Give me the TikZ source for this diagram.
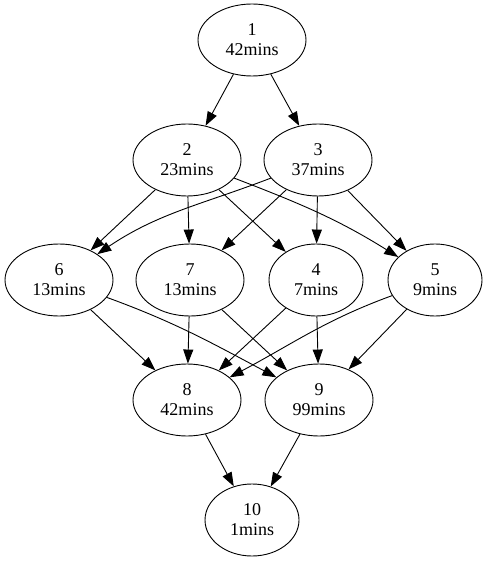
\documentclass[tikz,border=0pt]{standalone}
\usepackage{fontspec}
\setmainfont{Liberation Serif}
\usetikzlibrary{arrows.meta,shapes.geometric}
\begin{document}
\begin{tikzpicture}[x=1pt,y=-1pt,
  task/.style={draw,ellipse,line width=0.9pt,inner sep=0pt,minimum height=72pt,minimum width=108pt,align=center,font=\fontsize{18}{20}\selectfont},
  narrow/.style={task,minimum width=94pt},
  edge/.style={draw,line width=0.9pt,-{Triangle[length=14pt,width=10pt]}}]
\useasboundingbox (0,0) rectangle (488,561);
\node[task] (n1) at (252,40) {1\\42mins};
\node[task] (n2) at (187,160) {2\\23mins};
\node[task] (n3) at (318,160) {3\\37mins};
\node[task] (n6) at (59,280) {6\\13mins};
\node[task] (n7) at (190,280) {7\\13mins};
\node[narrow] (n4) at (316,280) {4\\7mins};
\node[narrow] (n5) at (435,280) {5\\9mins};
\node[task] (n8) at (187,400) {8\\42mins};
\node[task] (n9) at (319,400) {9\\99mins};
\node[narrow] (n10) at (252,520) {10\\1mins};
\draw[edge] (n1) -- (n2);
\draw[edge] (n1) -- (n3);
\draw[edge] (n2) -- (n6);
\draw[edge] (n2) -- (n7);
\draw[edge] (n2) -- (n4);
\draw[edge] (n2) to[out=-21,in=148] (n5);
\draw[edge] (n3) to[out=201,in=34] (n6);
\draw[edge] (n3) -- (n7);
\draw[edge] (n3) -- (n4);
\draw[edge] (n3) -- (n5);
\draw[edge] (n6) -- (n8);
\draw[edge] (n6) to[out=-20,in=152] (n9);
\draw[edge] (n7) -- (n8);
\draw[edge] (n7) -- (n9);
\draw[edge] (n4) -- (n8);
\draw[edge] (n4) -- (n9);
\draw[edge] (n5) to[out=200,in=28] (n8);
\draw[edge] (n5) -- (n9);
\draw[edge] (n8) -- (n10);
\draw[edge] (n9) -- (n10);
\end{tikzpicture}
\end{document}
